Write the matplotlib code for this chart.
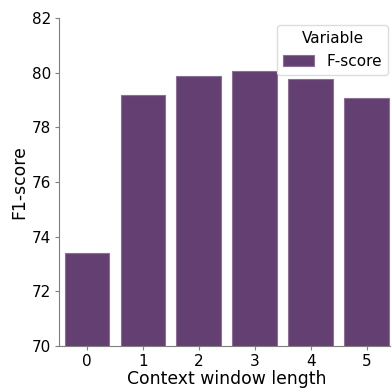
import matplotlib
matplotlib.use("Agg")
import matplotlib.pyplot as plt

# ── data ─────────────────────────────────────────────────────────────────────
windows = [0, 1, 2, 3, 4, 5]
f_score = [73.39, 79.18, 79.88, 80.05, 79.76, 79.06]
yticks = [70, 72, 74, 76, 78, 80, 82]

BAR_COLOR = "#643f71"
EDGE_COLOR = "#8b7095"
SPINE_COLOR = "#7f7f7f"

fig = plt.figure(figsize=(3.91, 3.88), dpi=100)
# axes runs slightly past the right edge, as in the cropped original
ax = fig.add_axes([59 / 391, 1 - 346 / 388, (394.7 - 59) / 391, (346 - 18) / 388])

ax.bar(windows, f_score, width=0.8, color=BAR_COLOR, edgecolor=EDGE_COLOR,
       linewidth=0.8, label="F-score", zorder=2)

ax.set_xlim(-0.5, 5.5)
ax.set_ylim(70, 82)
ax.set_xticks(windows)
ax.set_yticks(yticks)
ax.tick_params(labelsize=11, color=SPINE_COLOR, length=3, pad=2.5)
ax.set_xlabel("Context window length", fontsize=12.4, labelpad=1)
ax.set_ylabel("F1-score", fontsize=12.4, labelpad=3)

for s in ("top", "right"):
    ax.spines[s].set_visible(False)
for s in ("left", "bottom"):
    ax.spines[s].set_color(SPINE_COLOR)

leg = ax.legend(title="Variable", fontsize=11, title_fontsize=11,
                loc="upper right", bbox_to_anchor=(388 / 391, 1 - 25 / 388),
                bbox_transform=fig.transFigure, borderaxespad=0, framealpha=1)
leg.get_frame().set_edgecolor("#dddddd")

fig.savefig("out.png", dpi=100)
